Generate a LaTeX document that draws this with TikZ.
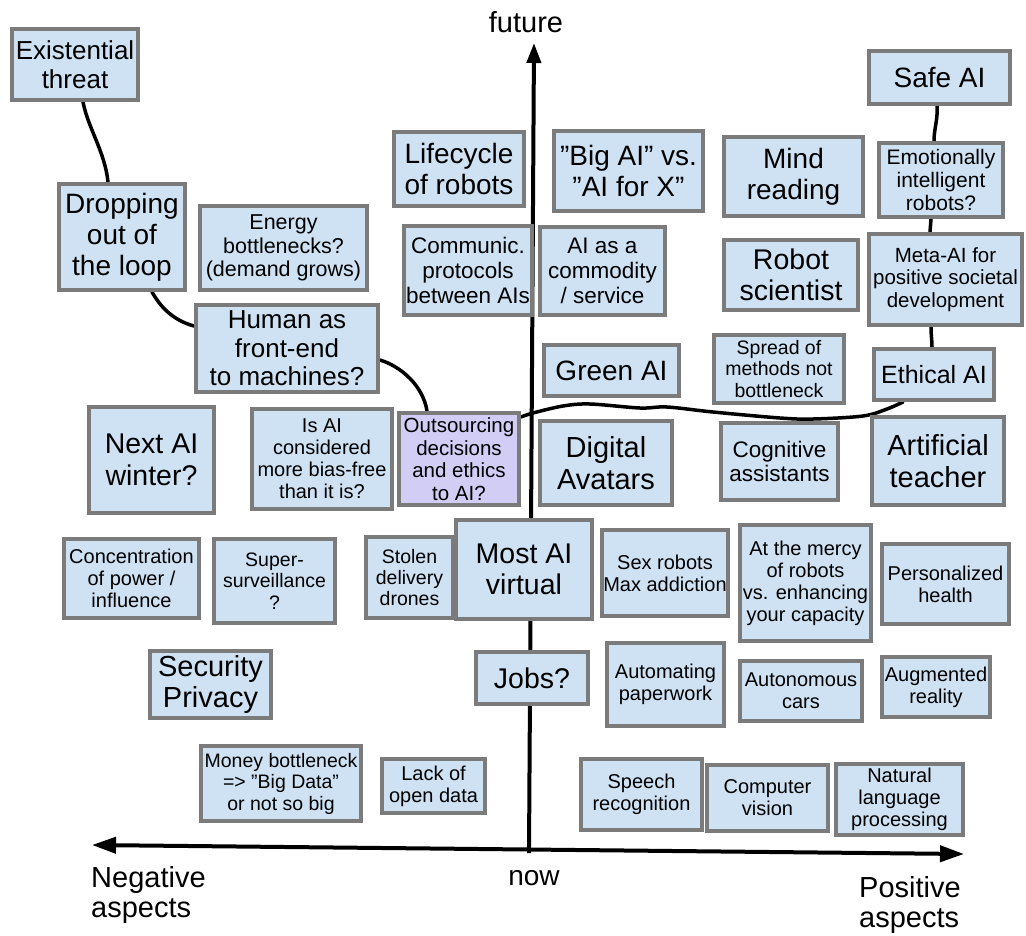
\documentclass[tikz,border=0pt]{standalone}
\usepackage{fontspec}
\setmainfont{Liberation Sans}
\usetikzlibrary{arrows.meta,calc}
\definecolor{boxblue}{HTML}{CFE2F3}
\definecolor{boxpurple}{RGB}{210,205,245}
\definecolor{bordergray}{HTML}{7B7B7B}
\pgfdeclarelayer{bg}
\pgfsetlayers{bg,main}
\newcommand\fsz[1]{\fontsize{#1}{\the\dimexpr#1pt*11/10\relax}\selectfont}
\newcommand\bx[8][]{\node[box,#1,minimum width={#5-#3-4},minimum height={#6-#4-4},font=\fsz{#7}] (#2) at ({(#3+#5)/2},{(#4+#6)/2}) {#8};}
\begin{document}
\begin{tikzpicture}[x=1pt,y=-1pt,
  box/.style={draw=bordergray,fill=boxblue,line width=4pt,inner sep=0pt,align=center,text=black},
  link/.style={line width=3.5pt,line cap=round},
  axis/.style={line width=4pt},
  lbl/.style={inner sep=0pt,align=left,font=\fontsize{29}{30.5}\selectfont}]
\useasboundingbox (0,0) rectangle (1026,935);

% axis labels
\node[inner sep=0pt,anchor=base,font=\fsz{29}] (future) at (526,32) {future};
\node[inner sep=0pt,anchor=base,font=\fsz{28}] (now) at (534,885) {now};
\node[lbl,anchor=north west] (neg) at (91,866) {Negative\\aspects};
\node[lbl,anchor=north west] (pos) at (859,876) {Positive\\aspects};

% boxes
\bx{ex}{10}{27}{140}{102}{26}{Existential\\threat}
\bx{drop}{57}{182}{187}{292}{28}{Dropping\\out of\\the loop}
\bx{energy}{198}{204}{369}{292}{21.5}{Energy\\bottlenecks?\\(demand grows)}
\bx{human}{194}{303}{380}{394}{26}{Human as\\front-end\\to machines?}
\bx{life}{392}{130}{526}{208}{28}{Lifecycle\\of robots}
\bx{bigai}{552}{129}{705}{213}{28}{”Big AI” vs.\\”AI for X”}
\bx{comm}{402}{224}{534}{317}{22.5}{Communic.\\protocols\\between AIs}
\bx{commod}{538}{225}{667}{317}{22.5}{AI as a\\commodity\\/ service}
\bx{green}{542}{343}{681}{398}{28}{Green AI}
\bx{mind}{722}{135}{865}{218}{28}{Mind\\reading}
\bx{safe}{867}{49}{1012}{106}{28}{Safe AI}
\bx{emo}{877}{141}{1005}{219}{21}{Emotionally\\intelligent\\robots?}
\bx{meta}{867}{232}{1024}{327}{20.5}{Meta-AI for\\positive societal\\development}
\bx{robotsci}{722}{238}{860}{312}{28.5}{Robot\\scientist}
\bx{spread}{712}{333}{846}{405}{19.5}{Spread of\\methods not\\bottleneck}
\bx{ethical}{872}{347}{996}{402}{25}{Ethical AI}
\bx{next}{87}{405}{216}{515}{28.5}{Next AI\\winter?}
\bx{isai}{250}{407}{394}{511}{20}{Is AI\\considered\\more bias-free\\than it is?}
\bx[fill=boxpurple]{out}{397}{411}{521}{507}{20.5}{Outsourcing\\decisions\\and ethics\\to AI?}
\bx{conc}{62}{537}{201}{620}{20}{Concentration\\of power /\\influence}
\bx{super}{212}{537}{337}{625}{19.5}{Super-\\surveillance\\?}
\bx{stolen}{364}{535}{455}{620}{19.5}{Stolen\\delivery\\drones}
\bx{digital}{538}{419}{674}{507}{29}{Digital\\Avatars}
\bx{cog}{719}{421}{840}{502}{22.5}{Cognitive\\assistants}
\bx{teacher}{870}{415}{1006}{507}{29}{Artificial\\teacher}
\bx{most}{454}{518}{594}{621}{28.5}{Most AI\\virtual}
\bx{sex}{600}{528}{730}{618}{20}{Sex robots\\Max addiction}
\bx{mercy}{738}{523}{873}{643}{20}{At the mercy\\of robots\\vs. enhancing\\your capacity}
\bx{pers}{880}{542}{1011}{626}{20}{Personalized\\health}
\bx{jobs}{474}{650}{590}{706}{28.5}{Jobs?}
\bx{autopaper}{605}{641}{726}{728}{20}{Automating\\paperwork}
\bx{autocars}{738}{659}{864}{723}{20}{Autonomous\\cars}
\bx{aug}{880}{655}{992}{719}{20}{Augmented\\reality}
\bx{sec}{148}{649}{273}{720}{29}{Security\\Privacy}
\bx{money}{199}{744}{363}{823}{19.5}{Money bottleneck\\=> ”Big Data”\\or not so big}
\bx{lack}{380}{757}{487}{815}{20}{Lack of\\open data}
\bx{speech}{579}{757}{704}{832}{20}{Speech\\recognition}
\bx{cv}{705}{763}{830}{833}{20}{Computer\\vision}
\bx{nlp}{834}{762}{965}{837}{20}{Natural\\language\\processing}

\begin{pgfonlayer}{bg}
\coordinate (yt) at (534,43);
\coordinate (yb) at (529,853);
\coordinate (xl) at (92,845);
\coordinate (xr) at (964,854);
\draw[axis,-{Triangle[length=20pt,width=14pt]}] (yb) -- (yt);
\draw[axis,{Triangle[length=24pt,width=16pt]}-{Triangle[length=24pt,width=16pt]}] (xl) -- (xr);

\draw[link] ([xshift=8pt]ex.south) .. controls (88,128) and (105,152) .. ([xshift=-14pt]drop.north);
\draw[link] ([xshift=30pt]drop.south) .. controls (160,306) and (172,320) .. ([yshift=22.5pt]human.west);
\draw[link] ([yshift=-11.5pt]human.east) .. controls (400,366) and (423,385) .. ([xshift=-32pt]out.north);
\coordinate (w0) at ([yshift=-6pt]out.north east);
\coordinate (w1) at ([xshift=-31pt]ethical.south);
\draw[link] plot[smooth,tension=0.55] coordinates {(w0) (533,413) (563,406) (590,404) (640,408) (667,407) (713,412) (780,418) (813,419) (863,416) (887,409) (w1)};
\draw[link] ([xshift=-2.5pt]safe.south) .. controls (938,120) and (934,128) .. ([xshift=-7pt]emo.north);
\draw[link] ([xshift=-10pt]emo.south) -- ([xshift=-15.5pt]meta.north);
\draw[link] ([xshift=-14.5pt]meta.south) .. controls (931,335) and (932,340) .. ([xshift=-2pt]ethical.north);
\end{pgfonlayer}
\end{tikzpicture}
\end{document}
